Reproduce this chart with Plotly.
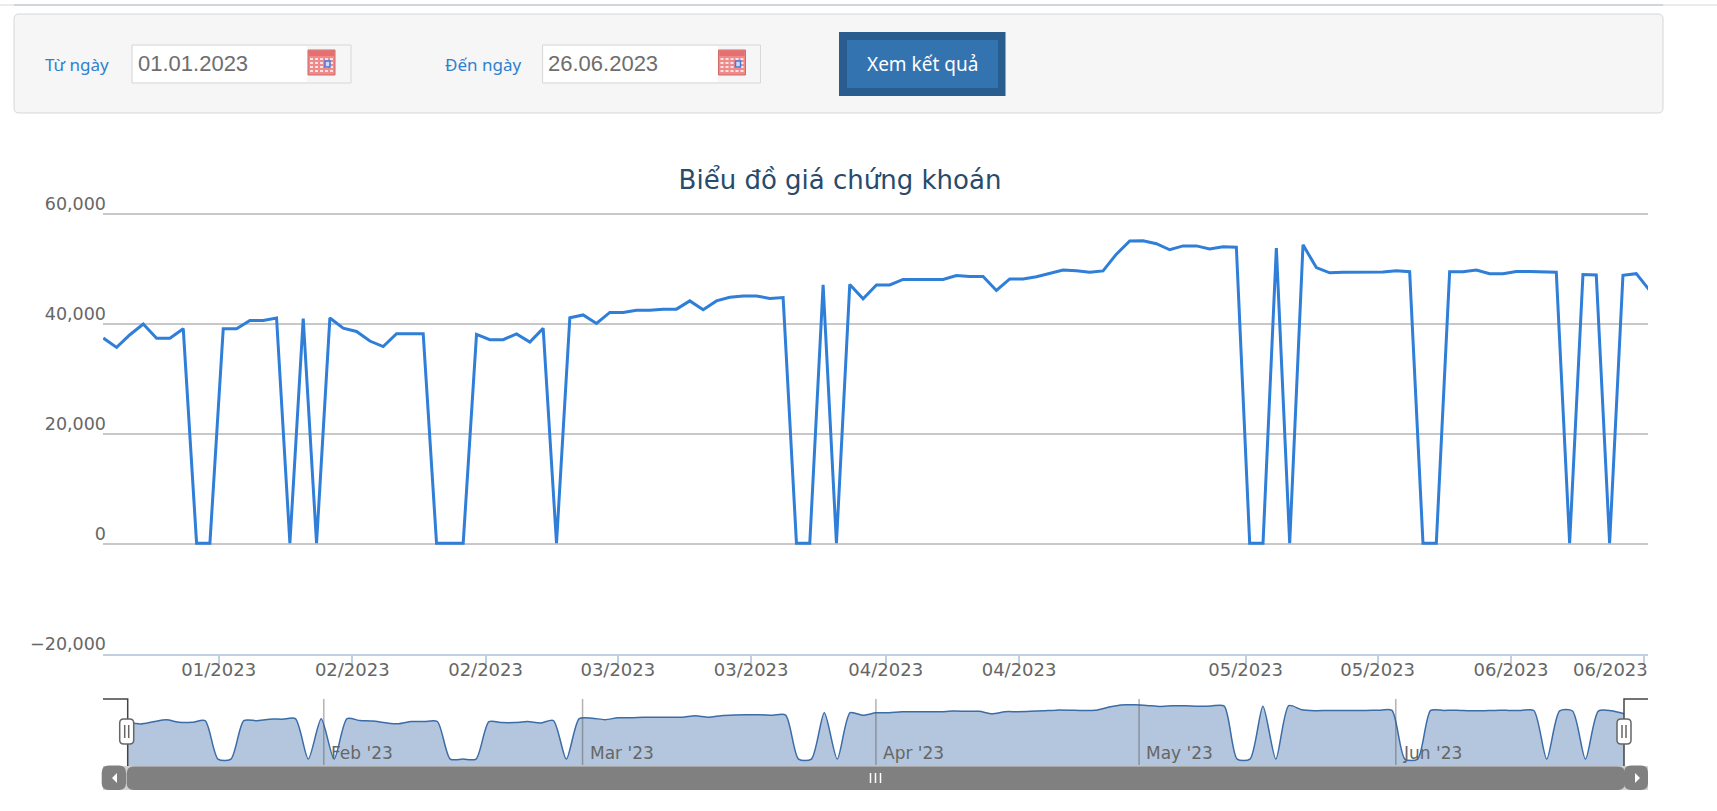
import plotly.graph_objects as go

W, H = 1717, 811

# ---------- data ----------
prices = [
    37450, 35750, 38050, 40000, 37400, 37400, 39150, 150, 150, 39150,
    39150, 40650, 40650, 41100, 150, 41000, 150, 41100, 39250, 38650,
    36900, 35900, 38250, 38250, 38250, 150, 150, 150, 38100, 37150,
    37150, 38200, 36700, 39200, 150, 41150, 41650, 40100, 42100, 42100,
    42500, 42500, 42700, 42700, 44200, 42600, 44200, 44850, 45100, 45100,
    44650, 44800, 150, 150, 47100, 150, 47200, 44600, 47100, 47100,
    48100, 48100, 48100, 48100, 48800, 48650, 48650, 46100, 48200, 48200,
    48600, 49150, 49800, 49700, 49400, 49650, 52700, 55100, 55150, 54600,
    53500, 54200, 54200, 53650, 54050, 53950, 150, 150, 53800, 150,
    54400, 50250, 49300, 49400, 49400, 49400, 49450, 49700, 49500, 150,
    150, 49500, 49500, 49800, 49150, 49150, 49550, 49550, 49500, 49400,
    150, 49000, 48900, 150, 48850, 49150, 46100,
]
session_index = list(range(len(prices)))

x_tick_pos = [8.66, 18.68, 28.68, 38.6, 48.6, 58.7, 68.7, 85.7, 95.6, 105.6, 115.6]
x_tick_labels = ["01/2023", "02/2023", "02/2023", "03/2023", "03/2023", "04/2023",
                 "04/2023", "05/2023", "05/2023", "06/2023", "06/2023"]
y_ticks = [-20000, 0, 20000, 40000, 60000]

nav_month_pos = [15.2, 35.26, 58.0, 78.4, 98.3]
nav_month_labels = ["Feb '23", "Mar '23", "Apr '23", "May '23", "Jun '23"]
NAV_FLOOR = -6900

TITLE = "Biểu đồ giá chứng khoán"
FROM_LABEL, FROM_DATE = "Từ ngày", "01.01.2023"
TO_LABEL, TO_DATE = "Đến ngày", "26.06.2023"
BUTTON = "Xem kết quả"

# ---------- pixel helpers (page chrome only) ----------
px = lambda v: v / W
py = lambda v: 1 - v / H
shapes, annos = [], []


def rect(x0, y0, x1, y1, fill, line=None, lw=1, layer="above"):
    shapes.append(dict(type="rect", xref="paper", yref="paper", x0=px(x0), x1=px(x1),
                       y0=py(y1), y1=py(y0), fillcolor=fill, layer=layer,
                       line=dict(color=line or fill, width=lw if line else 0)))


def rrect(x0, y0, x1, y1, r, fill, line=None, lw=1, layer="above"):
    P = lambda a, b: f"{px(a):.6f},{py(b):.6f}"
    d = (f"M{P(x0+r,y0)} L{P(x1-r,y0)} Q{P(x1,y0)} {P(x1,y0+r)} L{P(x1,y1-r)} "
         f"Q{P(x1,y1)} {P(x1-r,y1)} L{P(x0+r,y1)} Q{P(x0,y1)} {P(x0,y1-r)} "
         f"L{P(x0,y0+r)} Q{P(x0,y0)} {P(x0+r,y0)} Z")
    shapes.append(dict(type="path", xref="paper", yref="paper", path=d, fillcolor=fill,
                       layer=layer, line=dict(color=line or fill, width=lw if line else 0)))


def poly(points, fill=None, line=None, lw=1):
    d = "M" + " L".join(f"{px(a):.6f},{py(b):.6f}" for a, b in points)
    if fill:
        d += " Z"
    shapes.append(dict(type="path", xref="paper", yref="paper", path=d, layer="above",
                       fillcolor=fill or "rgba(0,0,0,0)",
                       line=dict(color=line or "rgba(0,0,0,0)", width=lw if line else 0)))


def text(x, y, s, size, color, font, anchor="left"):
    annos.append(dict(xref="paper", yref="paper", x=px(x), y=py(y), text=s, showarrow=False,
                      xanchor=anchor, yanchor="middle", borderpad=0, borderwidth=0,
                      font=dict(size=size, color=color, family=font)))


def calendar(x0, y0):
    w, h = 27, 25
    rect(x0, y0, x0 + w, y0 + h, "#f08a8a", "#cf6a66", 1)
    rect(x0 + 1, y0 + 1, x0 + w - 1, y0 + 6, "#e66f6f")
    for i in range(5):
        for j in range(4):
            rect(x0 + 2 + i * 5, y0 + 8 + j * 4, x0 + 5 + i * 5, y0 + 10 + j * 4, "#fbe3e3")
    rect(x0 + 17, y0 + 11, x0 + 22, y0 + 17, "#cfd8f5", "#4a78d8", 1.5)


# ---------- page header ----------
rect(14, 4, 1663, 6, "#ccd4d6", layer="below")
rect(0, 4.5, 1717, 5.5, "#d4d8dc", layer="below")
rrect(14, 14, 1663, 113, 5, "#f6f6f6", "#d6d6d6", 1, layer="below")

for box_x0, box_x1, icon_split in [(132, 351, 307), (542.5, 760.5, 718)]:
    rect(box_x0, 45, box_x1, 83, "#f6f6f6", "#d8d8d8", 1, layer="below")
    rect(box_x0 + 1, 46, icon_split, 82, "#ffffff", layer="below")
calendar(308, 50)
calendar(718.5, 50)

rect(839, 32, 1005.5, 96, "#2a5d8f")
rect(847, 40, 998, 88, "#3373b0")

text(45, 64.5, FROM_LABEL, 17, "#2f80d0", "Noto Sans")
text(445, 64.5, TO_LABEL, 17, "#2f80d0", "Noto Sans")
text(138, 64, FROM_DATE, 22, "#6e6e6e", "Liberation Sans")
text(548, 64, TO_DATE, 22, "#6e6e6e", "Liberation Sans")
text(922.5, 64.5, BUTTON, 19, "#ffffff", "Noto Sans", "center")

# the last x label sits flush with the plot's right edge instead of centred on its tick
text(1648, 669, x_tick_labels[-1], 18, "#666666", "DejaVu Sans", "right")

# ---------- navigator chrome ----------
NAV_TOP, NAV_BOT = 699, 766
LEFT, RIGHT = 103, 1648
H_L, H_R = 127.7, 1624

for gx in nav_month_pos:
    shapes.append(dict(type="line", xref="x2", yref="paper", x0=gx, x1=gx,
                       y0=py(NAV_BOT - 1), y1=py(NAV_TOP), layer="above",
                       line=dict(color="rgba(85,85,85,0.45)", width=1.5)))
for gx, label in zip(nav_month_pos, nav_month_labels):
    annos.append(dict(xref="x2", yref="paper", x=gx, y=py(752.5), text=label, showarrow=False,
                      xanchor="left", yanchor="middle", xshift=5,
                      font=dict(size=17, color="#666666", family="DejaVu Sans")))

poly([(LEFT, NAV_TOP), (H_L, NAV_TOP), (H_L, NAV_BOT)], line="#444444", lw=1.5)
poly([(RIGHT, NAV_TOP), (H_R, NAV_TOP), (H_R, NAV_BOT)], line="#444444", lw=1.5)
for hx in (H_L - 1, H_R):
    rrect(hx - 7, 719, hx + 7, 744, 4, "#ffffff", "#666666", 1.5)
    for off in (-2, 2):
        poly([(hx + off, 725), (hx + off, 738)], line="#666666", lw=1.5)

# scrollbar
rect(LEFT, 766, RIGHT, 790, "#d0d0d0")
rrect(126.7, 766.5, 1625, 790, 7, "#808080")
rrect(101.7, 765.5, 126, 790, 7, "#808080")
rrect(1624, 765.5, 1648, 790, 7, "#808080")
poly([(117, 773), (117, 783), (112, 778)], fill="#ffffff")
poly([(1635, 773), (1635, 783), (1640, 778)], fill="#ffffff")
for sx in (870.5, 875.5, 880.5):
    poly([(sx, 773), (sx, 783)], line="#ffffff", lw=1.5)

# ---------- figure ----------
fig = go.Figure()
fig.add_trace(go.Scatter(x=session_index, y=prices, mode="lines", xaxis="x", yaxis="y",
                         line=dict(color="#2f7ed8", width=3), showlegend=False,
                         hoverinfo="y"))
fig.add_trace(go.Scatter(x=session_index, y=[NAV_FLOOR] * len(prices), mode="lines",
                         xaxis="x2", yaxis="y2", line=dict(width=0), showlegend=False,
                         hoverinfo="skip"))
fig.add_trace(go.Scatter(x=session_index, y=prices, mode="lines", xaxis="x2", yaxis="y2",
                         fill="tonexty", fillcolor="#b3c6dd",
                         line=dict(color="#3a6ca8", width=1.5, shape="spline", smoothing=0.7),
                         showlegend=False, hoverinfo="skip"))

# range headroom of 2 px so the 60,000 gridline is not dropped at the axis end
Y_TOP = 60000 + 2 * 20000 / 110

fig.update_layout(
    width=W, height=H, autosize=False,
    margin=dict(l=0, r=0, t=0, b=0, autoexpand=False),
    paper_bgcolor="#ffffff", plot_bgcolor="#ffffff",
    font=dict(family="DejaVu Sans", color="#666666"),
    title=dict(text=TITLE, x=840 / W, y=1 - 180 / H, xanchor="center", yanchor="middle",
               xref="paper", yref="paper", automargin=False,
               font=dict(size=26, color="#274b6d", family="DejaVu Sans")),
    xaxis=dict(domain=[px(LEFT), px(RIGHT)], anchor="y", automargin=False,
               range=[-0.02, 115.88], tickmode="array", tickvals=x_tick_pos,
               ticktext=x_tick_labels[:-1] + [""], showgrid=False, zeroline=False,
               showline=True, linecolor="#c0d0e0", linewidth=1.5,
               ticks="outside", ticklen=8, tickcolor="#c0d0e0", tickwidth=1.5,
               ticklabelstandoff=-9, tickangle=0,
               tickfont=dict(size=18, color="#666666", family="DejaVu Sans")),
    yaxis=dict(domain=[py(654), py(212)], anchor="x", automargin=False,
               range=[-20000, Y_TOP], tickmode="array", tickvals=y_ticks, tickformat=",",
               showgrid=True, gridcolor="#c8c8c8", gridwidth=1.5, zeroline=False,
               showline=False, ticks="", ticklabelshift=-10, ticklabelstandoff=-4,
               tickfont=dict(size=17.5, color="#666666", family="DejaVu Sans")),
    xaxis2=dict(domain=[px(LEFT), px(RIGHT)], anchor="y2", automargin=False,
                range=[-1.915, 117.85], showgrid=False, zeroline=False,
                showticklabels=False, ticks="", showline=False),
    yaxis2=dict(domain=[py(NAV_BOT), py(NAV_TOP)], anchor="x2", automargin=False,
                range=[NAV_FLOOR, 61100], showgrid=False, zeroline=False,
                showticklabels=False, ticks="", showline=False),
    shapes=shapes, annotations=annos,
)

fig.write_html("out.html", config={"displayModeBar": False},
               post_script="document.body.style.margin='0';document.body.style.overflow='hidden';")
